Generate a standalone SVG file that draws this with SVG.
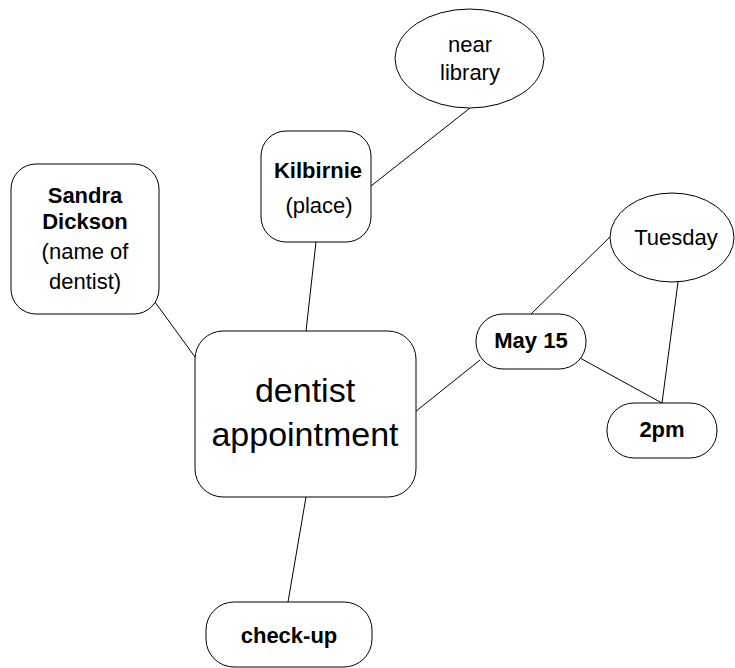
<svg xmlns="http://www.w3.org/2000/svg" width="735" height="668" viewBox="0 0 735 668">
<style>
.shape{fill:#fff;stroke:#000;stroke-width:1}
.edge{stroke:#000;stroke-width:1;fill:none}
text{font-family:"Liberation Sans",Arial,sans-serif;fill:#000;text-anchor:middle}
.b{font-weight:bold;font-size:22px}
.r{font-size:22px}
.big{font-size:34px}
</style>
<rect width="735" height="668" fill="#fff"/>
<g id="connectors">
<line class="edge" x1="155" y1="302" x2="195" y2="357"/>
<line class="edge" x1="316" y1="242" x2="306" y2="331"/>
<line class="edge" x1="371" y1="186" x2="470" y2="108"/>
<line class="edge" x1="415" y1="412" x2="480" y2="360"/>
<line class="edge" x1="531" y1="314" x2="610" y2="237"/>
<line class="edge" x1="580" y1="358" x2="662" y2="403"/>
<line class="edge" x1="678" y1="282" x2="662" y2="403"/>
<line class="edge" x1="306" y1="497" x2="288" y2="602"/>
</g>
<g id="sandra">
<rect class="shape" x="11" y="164" width="148" height="150" rx="25"/>
<text class="b" x="85" y="203">Sandra</text>
<text class="b" x="85" y="229">Dickson</text>
<text class="r" x="85" y="259">(name of</text>
<text class="r" x="85" y="289">dentist)</text>
</g>
<g id="kilbirnie">
<rect class="shape" x="261" y="131" width="110" height="111" rx="25"/>
<text class="b" x="318" y="178">Kilbirnie</text>
<text class="r" x="319" y="213">(place)</text>
</g>
<g id="near-library">
<ellipse class="shape" cx="469.5" cy="58.5" rx="74.5" ry="49.5"/>
<text class="r" x="470" y="52">near</text>
<text class="r" x="470" y="80">library</text>
</g>
<g id="main">
<rect class="shape" x="195" y="331" width="221" height="166" rx="28"/>
<text class="big" x="305" y="402">dentist</text>
<text class="big" x="305" y="446">appointment</text>
</g>
<g id="tuesday">
<ellipse class="shape" cx="672" cy="237.5" rx="62" ry="44.5"/>
<text class="r" x="676" y="245">Tuesday</text>
</g>
<g id="may15">
<rect class="shape" x="476" y="314" width="110" height="55" rx="27"/>
<text class="b" x="531" y="348">May 15</text>
</g>
<g id="twopm">
<rect class="shape" x="607" y="403" width="110" height="55" rx="27"/>
<text class="b" x="662" y="437">2pm</text>
</g>
<g id="checkup">
<rect class="shape" x="206" y="602" width="166" height="65" rx="28"/>
<text class="b" x="289" y="643">check-up</text>
</g>
</svg>
